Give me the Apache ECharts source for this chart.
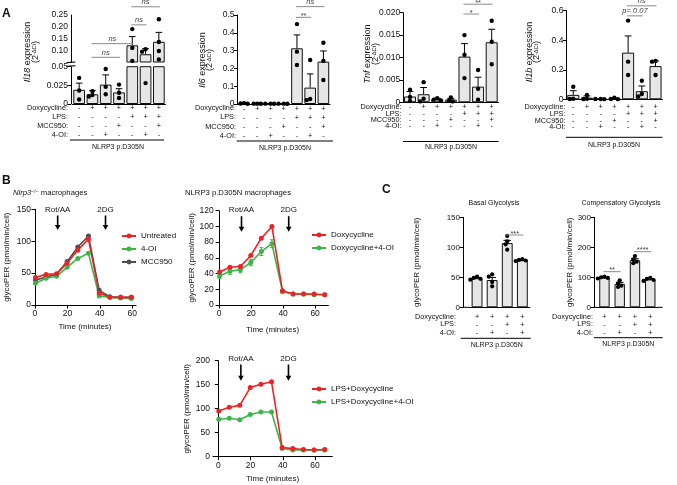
<!DOCTYPE html>
<html>
<head>
<meta charset="utf-8">
<script src="https://cdn.jsdelivr.net/npm/echarts@6/dist/echarts.min.js"></script>
<style>
html, body { margin: 0; padding: 0; background: #fff; }
#main { width: 677px; height: 485px; }
</style>
</head>
<body>
<div id="main"></div>
<script>
var chart = echarts.init(document.getElementById('main'));
var FONT = 'Liberation Sans, Arial, Helvetica, sans-serif';

// ---- A: qPCR panels, treatment table under the bars ----
var catsA = ['1', '2', '3', '4', '5', '6', '7'];
var rowDoxA = ['-', '+', '+', '+', '+', '+', '+'];
var rowLpsA = ['-', '-', '-', '-', '+', '+', '+'];
var rowMccA = ['-', '-', '-', '+', '-', '-', '+'];
var rowOiA  = ['-', '-', '+', '-', '-', '+', '-'];
var namesA = ['Doxycycline:', 'LPS:', 'MCC950:', '4-OI:'];

// Il18 (broken axis)
var il18Mean = [0.019, 0.013, 0.026, 0.0155, 0.121, 0.083, 0.136];
var il18Sem  = [0.009, 0.005, 0.013, 0.005, 0.037, 0.024, 0.040];
var il18Pts  = [[0.035, 0.018, 0.006], [0.017, 0.012, 0.010], [0.047, 0.023, 0.013], [0.026, 0.015, 0.008],
                [0.19, 0.11, 0.055], [0.104, 0.094, 0.028], [0.232, 0.135, 0.097, 0.061]];
// Il6
var il6Mean = [0.003, 0.002, 0.002, 0.002, 0.313, 0.092, 0.238];
var il6Sem  = [0.001, 0.0005, 0.0005, 0.0005, 0.075, 0.077, 0.060];
var il6Pts  = [[0.005, 0.003, 0.001], [0.002, 0.002, 0.001], [0.002, 0.002, 0.001], [0.002, 0.002, 0.001],
               [0.449, 0.294, 0.219], [0.247, 0.028, 0.022], [0.344, 0.242, 0.135]];
// Tnf
var tnfMean = [0.0013, 0.0018, 0.0007, 0.0006, 0.0102, 0.0035, 0.0134];
var tnfSem  = [0.0011, 0.0015, 0.0002, 0.0003, 0.0029, 0.0021, 0.0029];
var tnfPts  = [[0.0028, 0.0012, 0.0003], [0.0045, 0.0008, 0.0002], [0.0009, 0.0006, 0.0004], [0.0011, 0.0004, 0.0002],
               [0.0150, 0.0106, 0.0054], [0.0072, 0.0030, 0.0006], [0.0182, 0.0135, 0.0085]];
// Il1b
var il1bMean = [0.030, 0.011, 0.002, 0.004, 0.316, 0.055, 0.225];
var il1bSem  = [0.028, 0.012, 0.001, 0.002, 0.113, 0.035, 0.035];
var il1bPts  = [[0.085, 0.004, 0.002], [0.029, 0.003, 0.002], [0.002, 0.002, 0.001], [0.010, 0.002, 0.001],
                [0.533, 0.255, 0.165], [0.126, 0.036, 0.020], [0.260, 0.255, 0.165]];

// significance brackets: [from bar, to bar, height]
var sigIl18 = [[1, 3, 0.07], [1, 4, 0.128], [4, 5, 0.208], [4, 6, 0.285]];
var sigIl18Text = ['ns', 'ns', 'ns', 'ns'];
var sigIl6 = [[4, 5, 0.487], [4, 6, 0.547]];
var sigIl6Text = ['**', 'ns'];
var sigTnf = [[4, 5, 0.0197], [4, 6, 0.0219]];
var sigTnfText = ['*', '**'];
var sigIl1b = [[4, 5, 0.565], [4, 6, 0.633]];
var sigIl1bText = ['p= 0.07', 'ns'];

// ---- B: glycoPER time courses ----
var timeB1 = [0.3, 6.8, 13.3, 19.8, 26.4, 33, 39.6, 46.2, 52.8, 59.4];
var b1Untreated = [43, 48, 49, 66, 86, 103, 19, 12, 12, 12];
var b1OI        = [34, 42, 45, 59, 73, 81, 14, 12, 11, 10];
var b1MCC       = [39, 44, 48, 68, 91, 108, 23, 13, 12, 12];
var timeB = [0.3, 6.8, 13.3, 19.8, 26.4, 33, 39.6, 46.2, 52.8, 59.4, 66];
var b2Dox       = [42, 48, 49, 63, 85, 100, 18, 14, 14, 14, 13];
var b2DoxOI     = [37, 43, 45, 54, 68, 78, 17, 14, 14, 13, 13];
var b2DoxOIErr  = [3, 4, 4, 4, 5, 5, 1, 1, 1, 1, 1];
var b3LpsDox    = [95, 103, 107, 144, 151, 156, 19, 17, 15, 14, 15];
var b3LpsDoxOI  = [78, 80, 77, 88, 93, 93, 17, 14, 14, 14, 14];
var arrowTimes = [14, 43.5];
var arrowNames = ['Rot/AA', '2DG'];
var timeTicks = [0, 20, 40, 60];

// ---- C: glycolysis bars ----
var catsC = ['1', '2', '3', '4'];
var rowDoxC = ['+', '+', '+', '+'];
var rowLpsC = ['-', '-', '+', '+'];
var rowOiC  = ['-', '+', '-', '+'];
var namesC = ['Doxycycline:', 'LPS:', '4-OI:'];
var basalMean = [48.5, 45.5, 107, 78.5];
var basalSem  = [1.2, 4.3, 4.6, 0.8];
var basalPts  = [[51, 49, 47.5, 46], [55, 51, 42, 35], [119, 110, 105, 96], [80.5, 79, 78, 77]];
var compMean = [99, 78, 157, 93];
var compSem  = [1.3, 5, 5, 2.2];
var compPts  = [[102, 100, 98, 96], [90, 80, 72, 68], [171, 160, 152, 147], [98, 95, 91, 88]];
var sigBasal = [[2, 3, 120.5]];
var sigBasalText = ['***'];
var sigComp = [[0, 1, 118.7], [2, 3, 185.3]];
var sigCompText = ['**', '****'];

var RED = '#ec2227', GREEN = '#3db54a', GREY = '#505050';

function merge(a, b) { for (var k in b) a[k] = b[k]; return a; }

// grids: 0/1 Il18 low/high, 2 Il6, 3 Tnf, 4 Il1b, 5-7 B, 8-9 C
var grids = [
  { left: 72.5, top: 66.7, width: 93, height: 37.3 },
  { left: 72.5, top: 15, width: 93, height: 47 },
  { left: 237.5, top: 15, width: 92.5, height: 89 },
  { left: 403.2, top: 12.7, width: 95.3, height: 89.6 },
  { left: 566.4, top: 10.7, width: 96, height: 88.6 },
  { left: 34, top: 209.3, width: 102, height: 95.7 },
  { left: 216.7, top: 210.7, width: 111.7, height: 94.3 },
  { left: 213, top: 360.7, width: 119.3, height: 96 },
  { left: 469.5, top: 217.3, width: 60.4, height: 90 },
  { left: 596.8, top: 217.3, width: 61.1, height: 90 }
].map(function (g) { return merge(g, { outerBoundsMode: 'none', containLabel: false }); });

function catAxis(g, cats, rows, lh, margin, show) {
  return {
    type: 'category', gridIndex: g, data: cats, show: show !== false,
    axisLine: { lineStyle: { color: '#000', width: 1 } },
    axisTick: { show: false },
    axisLabel: {
      interval: 0, margin: margin, lineHeight: lh, fontSize: 7.3, color: '#111', hideOverlap: false,
      formatter: function (v, i) { return rows.map(function (r) { return r[i]; }).join('\n'); }
    }
  };
}

function valAxis(g, min, max, interval, extra) {
  return merge({
    type: 'value', gridIndex: g, min: min, max: max, interval: interval,
    axisLine: { show: true, lineStyle: { color: '#000', width: 1 } },
    axisTick: { show: true, length: 3.5, lineStyle: { color: '#000', width: 1 } },
    axisLabel: { fontSize: 8.5, color: '#111', margin: 3 },
    splitLine: { show: false }
  }, extra || {});
}

function timeAxis(g, min, max, gap) {
  return {
    type: 'value', gridIndex: g, min: min, max: max,
    name: 'Time (minutes)', nameLocation: 'middle', nameGap: gap,
    nameTextStyle: { fontSize: 8, color: '#111' },
    axisLine: { lineStyle: { color: '#000', width: 1 } },
    axisTick: { length: 3.5, customValues: timeTicks, lineStyle: { color: '#000' } },
    axisLabel: { fontSize: 8.5, color: '#111', margin: 4, customValues: timeTicks },
    splitLine: { show: false }
  };
}

function perName(gap) {
  return { name: 'glycoPER (pmol/min/cell)', nameLocation: 'middle', nameGap: gap,
    nameTextStyle: { fontSize: 8, color: '#111' } };
}

function zeroFmt(d) { return function (v) { return v === 0 ? '0' : v.toFixed(d); }; }

var xAxes = [
  catAxis(0, catsA, [rowDoxA, rowLpsA, rowMccA, rowOiA], 8.9, 0),
  catAxis(1, catsA, [], 9, 0, false),
  catAxis(2, catsA, [rowDoxA, rowLpsA, rowMccA, rowOiA], 9.2, 0),
  catAxis(3, catsA, [rowDoxA, rowLpsA, rowMccA, rowOiA], 6.2, 1.9),
  catAxis(4, catsA, [rowDoxA, rowLpsA, rowMccA, rowOiA], 6.7, 4.6),
  timeAxis(5, -0.6, 62.3, 18),
  timeAxis(6, -1.5, 68.3, 21),
  timeAxis(7, -3.3, 70.7, 18.5),
  catAxis(8, catsC, [rowDoxC, rowLpsC, rowOiC], 8, 5.5),
  catAxis(9, catsC, [rowDoxC, rowLpsC, rowOiC], 8, 5.5)
];

var yAxes = [
  valAxis(0, 0, 0.05, 0.025, { offset: 1.5, axisLabel: { fontSize: 8.5, color: '#111', margin: 3,
    formatter: function (v) { return v === 0 ? '0' : String(v); } } }),
  valAxis(1, 0.05, 0.25, 0.05, { offset: 1.5,
    axisTick: { length: 3.5, customValues: [0.1, 0.15, 0.2, 0.25], lineStyle: { color: '#000' } },
    axisLabel: { fontSize: 8.5, color: '#111', margin: 3, customValues: [0.1, 0.15, 0.2, 0.25],
      formatter: function (v) { return v.toFixed(2); } } }),
  valAxis(2, 0, 0.5, 0.1),
  valAxis(3, 0, 0.02, 0.005, { axisLabel: { fontSize: 8.5, color: '#111', margin: 3, formatter: zeroFmt(3) } }),
  valAxis(4, 0, 0.6, 0.2),
  valAxis(5, 0, 150, 50, perName(23.5)),
  valAxis(6, 0, 120, 20, perName(19)),
  valAxis(7, 0, 200, 50, perName(22.5)),
  valAxis(8, 0, 150, 50, merge({ offset: 6.5, axisLabel: { fontSize: 8, color: '#111', margin: 3 } }, perName(42))),
  valAxis(9, 0, 300, 100, merge({ offset: 2.8, axisLabel: { fontSize: 8, color: '#111', margin: 3 } }, perName(19)))
];

function barSeries(g, data, width) {
  return { type: 'bar', xAxisIndex: g, yAxisIndex: g, data: data, barWidth: width, z: 2, silent: true,
    itemStyle: { color: '#e6e6e6', borderColor: '#111', borderWidth: 1 } };
}

function errSeries(g, mean, sem, keep) {
  var data = [];
  mean.forEach(function (m, i) { if (!keep || keep(m + sem[i])) data.push([i, m, sem[i]]); });
  return { type: 'custom', xAxisIndex: g, yAxisIndex: g, z: 3, silent: true, clip: false,
    encode: { x: 0, y: 1 }, data: data,
    renderItem: function (params, api) {
      var x = api.value(0), m = api.value(1), s = api.value(2);
      var p0 = api.coord([x, m]), p1 = api.coord([x, m + s]);
      var w = api.size([1, 0])[0] * 0.25;
      return { type: 'group', children: [
        { type: 'line', shape: { x1: p0[0], y1: p0[1], x2: p1[0], y2: p1[1] }, style: { stroke: '#000', lineWidth: 1 } },
        { type: 'line', shape: { x1: p1[0] - w, y1: p1[1], x2: p1[0] + w, y2: p1[1] }, style: { stroke: '#000', lineWidth: 1 } }
      ] };
    } };
}

// replicate dots, spread sideways only where they would collide
function dotSeries(g, pts, r) {
  var data = pts.map(function (p, i) {
    var row = [i];
    for (var k = 0; k < 4; k++) row.push(p[k] == null ? null : p[k]);
    return row;
  });
  return { type: 'custom', xAxisIndex: g, yAxisIndex: g, z: 4, silent: true, clip: false,
    dimensions: ['x', 'p0', 'p1', 'p2', 'p3'], encode: { x: 0, y: [1, 2, 3, 4] }, data: data,
    renderItem: function (params, api) {
      var cat = api.value(0), pos = [];
      for (var k = 1; k <= 4; k++) {
        var v = api.value(k);
        if (v === null || v === undefined || isNaN(v)) continue;
        pos.push(api.coord([cat, v]));
      }
      var minD = 1.6 * r, step = minD / 2, placed = [], out = [];
      pos.forEach(function (p) {
        for (var m = 0; m < 15; m++) {
          var off = m === 0 ? 0 : (m % 2 ? -1 : 1) * Math.ceil(m / 2) * step;
          var x = p[0] + off, ok = true;
          for (var q = 0; q < placed.length; q++) {
            var dx = placed[q][0] - x, dy = placed[q][1] - p[1];
            if (dx * dx + dy * dy < minD * minD) { ok = false; break; }
          }
          if (ok) { placed.push([x, p[1]]); break; }
        }
      });
      placed.forEach(function (p) {
        out.push({ type: 'circle', shape: { cx: p[0], cy: p[1], r: r }, style: { fill: '#000' } });
      });
      return { type: 'group', children: out };
    } };
}

function sigSeries(g, pairs, texts) {
  return { type: 'custom', xAxisIndex: g, yAxisIndex: g, z: 5, silent: true, clip: false,
    encode: { x: [0, 1], y: 2 }, data: pairs,
    renderItem: function (params, api) {
      var a = api.coord([api.value(0), api.value(2)]);
      var b = api.coord([api.value(1), api.value(2)]);
      var t = texts[params.dataIndex];
      var star = t.charAt(0) === '*';
      return { type: 'group', children: [
        { type: 'line', shape: { x1: a[0] - 1, y1: a[1], x2: b[0] + 1, y2: b[1] }, style: { stroke: '#8a8a8a', lineWidth: 1 } },
        { type: 'text', x: (a[0] + b[0]) / 2, y: star ? a[1] + 2.5 : a[1] - 0.5,
          style: { text: t, fontSize: 7.5, fontStyle: star ? 'normal' : 'italic', fontFamily: FONT,
            fill: '#444', align: 'center', verticalAlign: 'bottom' } }
      ] };
    } };
}

function lineSeries(g, name, times, values, color) {
  return { type: 'line', name: name, xAxisIndex: g, yAxisIndex: g, z: 3,
    data: times.map(function (t, i) { return [t, values[i]]; }),
    symbol: 'circle', symbolSize: 5, showSymbol: true,
    lineStyle: { color: color, width: 1.6 }, itemStyle: { color: color } };
}

function lineErrSeries(g, times, values, err, color) {
  return { type: 'custom', xAxisIndex: g, yAxisIndex: g, z: 2, silent: true,
    encode: { x: 0, y: 1 }, data: times.map(function (t, i) { return [t, values[i], err[i]]; }),
    renderItem: function (params, api) {
      var t = api.value(0), v = api.value(1), e = api.value(2);
      var lo = api.coord([t, v - e]), hi = api.coord([t, v + e]);
      return { type: 'group', children: [
        { type: 'line', shape: { x1: lo[0], y1: lo[1], x2: hi[0], y2: hi[1] }, style: { stroke: color, lineWidth: 1 } },
        { type: 'line', shape: { x1: lo[0] - 2, y1: lo[1], x2: lo[0] + 2, y2: lo[1] }, style: { stroke: color, lineWidth: 1 } },
        { type: 'line', shape: { x1: hi[0] - 2, y1: hi[1], x2: hi[0] + 2, y2: hi[1] }, style: { stroke: color, lineWidth: 1 } }
      ] };
    } };
}

var low = function (v) { return v <= 0.05 ? v : null; };
var high = function (v) { return v > 0.05 ? v : null; };

var series = [
  // Il18 lower / upper segment
  barSeries(0, il18Mean, '88%'),
  errSeries(0, il18Mean, il18Sem, function (v) { return v <= 0.05; }),
  dotSeries(0, il18Pts.map(function (p) { return p.map(low); }), 2.2),
  barSeries(1, il18Mean.map(function (v) { return v > 0.05 ? v : '-'; }), '88%'),
  errSeries(1, il18Mean, il18Sem, function (v) { return v > 0.05; }),
  dotSeries(1, il18Pts.map(function (p) { return p.map(high); }), 2.2),
  sigSeries(1, sigIl18, sigIl18Text),
  // Il6
  barSeries(2, il6Mean, '88%'), errSeries(2, il6Mean, il6Sem), dotSeries(2, il6Pts, 2.2), sigSeries(2, sigIl6, sigIl6Text),
  // Tnf
  barSeries(3, tnfMean, '88%'), errSeries(3, tnfMean, tnfSem), dotSeries(3, tnfPts, 2.2), sigSeries(3, sigTnf, sigTnfText),
  // Il1b
  barSeries(4, il1bMean, '88%'), errSeries(4, il1bMean, il1bSem), dotSeries(4, il1bPts, 2.2), sigSeries(4, sigIl1b, sigIl1bText),
  // B
  lineSeries(5, 'MCC950', timeB1, b1MCC, GREY),
  lineSeries(5, '4-OI', timeB1, b1OI, GREEN),
  lineSeries(5, 'Untreated', timeB1, b1Untreated, RED),
  lineErrSeries(6, timeB, b2DoxOI, b2DoxOIErr, GREEN),
  lineSeries(6, 'Doxycycline+4-OI', timeB, b2DoxOI, GREEN),
  lineSeries(6, 'Doxycycline', timeB, b2Dox, RED),
  lineSeries(7, 'LPS+Doxycycline+4-OI', timeB, b3LpsDoxOI, GREEN),
  lineSeries(7, 'LPS+Doxycycline', timeB, b3LpsDox, RED),
  // C
  barSeries(8, basalMean, '72%'), errSeries(8, basalMean, basalSem), dotSeries(8, basalPts, 2.1), sigSeries(8, sigBasal, sigBasalText),
  barSeries(9, compMean, '68%'), errSeries(9, compMean, compSem), dotSeries(9, compPts, 2.1), sigSeries(9, sigComp, sigCompText)
];

function legendAt(left, top, names) {
  return { data: names, left: left, top: top, orient: 'vertical', itemWidth: 14, itemHeight: 6, itemGap: 3,
    padding: 0, selectedMode: false, textStyle: { fontSize: 8, color: '#111', lineHeight: 10 } };
}

chart.setOption({
  animation: false,
  textStyle: { fontFamily: FONT },
  grid: grids,
  xAxis: xAxes,
  yAxis: yAxes,
  series: series,
  legend: [
    legendAt(121, 231, ['Untreated', '4-OI', 'MCC950']),
    legendAt(311, 230, ['Doxycycline', 'Doxycycline+4-OI']),
    legendAt(311, 384, ['LPS+Doxycycline', 'LPS+Doxycycline+4-OI'])
  ]
});

// ---- annotations ----
function txt(x, y, s, o) {
  return { type: 'text', x: x, y: y, silent: true,
    style: merge({ text: s, fontSize: 7.3, fontFamily: FONT, fill: '#111', align: 'left', verticalAlign: 'middle' }, o || {}) };
}
function hline(x1, x2, y) {
  return { type: 'line', silent: true, shape: { x1: x1, y1: y, x2: x2, y2: y }, style: { stroke: '#000', lineWidth: 1 } };
}
function yTitle(x, y, gene) {
  var base = { fontFamily: FONT, fontSize: 9, lineHeight: 7.5 };
  return { type: 'text', x: x, y: y, rotation: Math.PI / 2, silent: true,
    style: { text: '{i|' + gene + '}{n| expression}\n{n|(2}{s|-ΔCt}{n|)}', align: 'center', verticalAlign: 'middle', fill: '#111',
      rich: { i: merge({ fontStyle: 'italic' }, base), n: merge({}, base),
        s: { fontFamily: FONT, fontSize: 5.5, lineHeight: 7.5, verticalAlign: 'top' } } } };
}
function table(xRight, ys, names, line, label) {
  var out = names.map(function (n, i) { return txt(xRight, ys[i], n, { align: 'right' }); });
  out.push(hline(line[0], line[1], line[2]));
  out.push(txt(label[0], label[1], 'NLRP3 p.D305N', { align: 'center', fontSize: 7 }));
  return out;
}

var g = [];
g.push(txt(2, 14, 'A', { fontSize: 12, fontWeight: 'bold' }));
g.push(txt(2, 181, 'B', { fontSize: 12, fontWeight: 'bold' }));
g.push(txt(382, 190, 'C', { fontSize: 12, fontWeight: 'bold' }));

g.push(yTitle(31.5, 52, 'Il18'), yTitle(206, 60, 'Il6'), yTitle(371.3, 54, 'Tnf'), yTitle(533, 52, 'Il1b'));

// Il18 axis break
g.push({ type: 'rect', silent: true, shape: { x: 66, y: 62.4, width: 10, height: 3.8 }, style: { fill: '#fff' } });
g.push({ type: 'line', silent: true, shape: { x1: 66.5, y1: 62.6, x2: 75.5, y2: 62.0 }, style: { stroke: '#000', lineWidth: 1.1 } });
g.push({ type: 'line', silent: true, shape: { x1: 66.5, y1: 66.4, x2: 75.5, y2: 65.8 }, style: { stroke: '#000', lineWidth: 1.1 } });

g = g.concat(table(68, [108.3, 117.3, 126, 135], namesA, [70, 164, 140], [118, 146.7]));
g = g.concat(table(236, [108.3, 117.3, 126.7, 136], namesA, [236.7, 333, 141], [285, 148]));
g = g.concat(table(401.5, [107.3, 113.5, 119.7, 125.9], namesA, [403, 498.5, 141.5], [451, 147.5]));
g = g.concat(table(565.5, [107.3, 114, 120.7, 127.3], namesA, [566, 662.5, 137.3], [614, 145]));
g = g.concat(table(456, [316.7, 324.4, 332.7], namesC, [460.7, 530.7, 338.3], [496.7, 345]));
g = g.concat(table(593, [316.7, 324.4, 332.7], namesC, [594, 662.7, 337.7], [628.3, 344.3]));

// x axis line extensions in C (bars start a little right of the y axis)
g.push(hline(463, 469.5, 307.3), hline(594, 596.8, 307.3), hline(657.9, 662.7, 307.3));

// B subtitles
g.push({ type: 'text', x: 13, y: 192.7, silent: true,
  style: { text: '{i|Nlrp3}{s|−/−}{n| macrophages}', verticalAlign: 'middle', fill: '#111',
    rich: { i: { fontFamily: FONT, fontSize: 7.7, fontStyle: 'italic' }, n: { fontFamily: FONT, fontSize: 7.7 },
      s: { fontFamily: FONT, fontSize: 5, verticalAlign: 'top' } } } });
g.push(txt(185, 192.7, 'NLRP3 p.D305N macrophages', { fontSize: 7.7 }));

// C titles
g.push(txt(494, 203, 'Basal Glycolysis', { align: 'center', fontSize: 7 }));
g.push(txt(621, 203, 'Compensatory Glycolysis', { align: 'center', fontSize: 7 }));

// injection arrows, placed through the axes
var arrowRows = [
  { grid: 5, ty: 209.3, y0: 215.5, y1: 230 },
  { grid: 6, ty: 210, y0: 216.2, y1: 231.7 },
  { grid: 7, ty: 358.3, y0: 364.5, y1: 380.7 }
];
arrowRows.forEach(function (a) {
  arrowTimes.forEach(function (t, k) {
    var x = chart.convertToPixel({ gridIndex: a.grid }, [t, 0])[0];
    g.push(txt(x, a.ty, arrowNames[k], { align: 'center', fontSize: 8 }));
    g.push({ type: 'line', silent: true, shape: { x1: x, y1: a.y0, x2: x, y2: a.y1 - 4 }, style: { stroke: '#000', lineWidth: 1.6 } });
    g.push({ type: 'polygon', silent: true, shape: { points: [[x - 2.8, a.y1 - 5], [x + 2.8, a.y1 - 5], [x, a.y1]] }, style: { fill: '#000' } });
  });
});

chart.setOption({ graphic: g });
</script>
</body>
</html>
